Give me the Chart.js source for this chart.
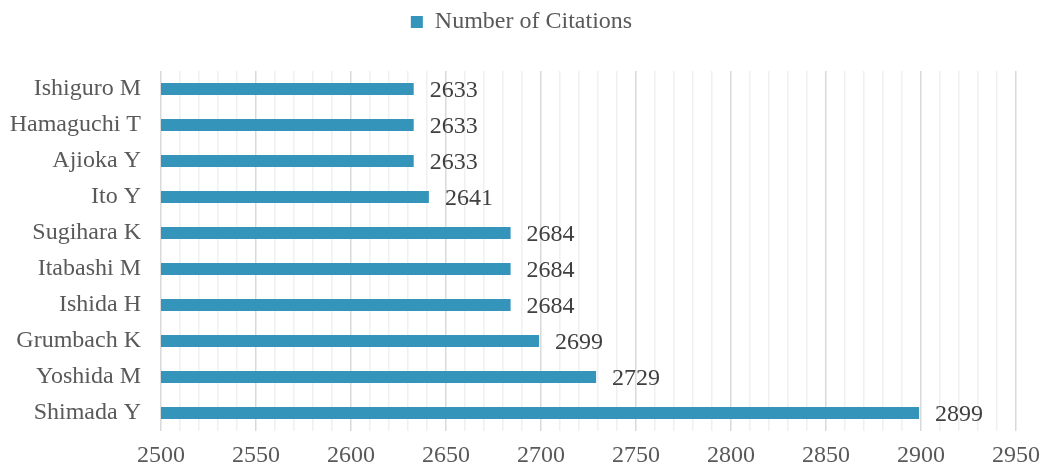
<!DOCTYPE html>
<html>
<head>
<meta charset="utf-8">
<script src="https://cdn.jsdelivr.net/npm/chart.js@4/dist/chart.umd.min.js"></script>
<style>
  html, body { margin: 0; padding: 0; background: #fff; }
  #wrap { width: 1043px; height: 469px; }
</style>
</head>
<body>
<div id="wrap"><canvas id="citeChart"></canvas></div>
<script>
const authors = ['Ishiguro M', 'Hamaguchi T', 'Ajioka Y', 'Ito Y', 'Sugihara K',
  'Itabashi M', 'Ishida H', 'Grumbach K', 'Yoshida M', 'Shimada Y'];
const citations = [2633, 2633, 2633, 2641, 2684, 2684, 2684, 2699, 2729, 2899];
const xMin = 2500;
const xMax = 2950;

const serif = '"Liberation Serif", "Times New Roman", serif';

// value text to the right of each bar
const barLabels = {
    id: 'barLabels',
    afterDatasetsDraw(chart) {
        const ctx = chart.ctx;
        const meta = chart.getDatasetMeta(0);
        ctx.save();
        ctx.font = '24px ' + serif;
        ctx.fillStyle = '#404040';
        ctx.textAlign = 'left';
        ctx.textBaseline = 'middle';
        meta.data.forEach((bar, i) => {
            ctx.fillText(String(chart.data.datasets[0].data[i]), bar.x + 16, bar.y + 2);
        });
        ctx.restore();
    }
};

// extra space under the legend
const legendGap = {
    id: 'legendGap',
    beforeInit(chart) {
        const fit = chart.legend.fit;
        chart.legend.fit = function () {
            fit.bind(chart.legend)();
            this.height += 27;
        };
    }
};

const ctx = document.getElementById('citeChart').getContext('2d');
new Chart(ctx, {
    type: 'bar',
    data: {
        labels: authors,
        datasets: [{
            label: 'Number of Citations',
            data: citations,
            backgroundColor: '#3494ba',
            borderWidth: 0,
            barPercentage: 0.34,
            categoryPercentage: 1.0
        }]
    },
    options: {
        indexAxis: 'y',
        responsive: true,
        maintainAspectRatio: false,
        animation: false,
        layout: { padding: { top: 2, right: 0, bottom: 0, left: 0 } },
        plugins: {
            legend: {
                position: 'top',
                labels: {
                    boxWidth: 12,
                    boxHeight: 12,
                    padding: 8,
                    color: '#595959',
                    font: { family: serif, size: 24 }
                }
            },
            tooltip: { enabled: false }
        },
        scales: {
            x: {
                min: xMin,
                max: xMax,
                afterFit: (s) => { s.height = 38; s.paddingRight = 27; },
                ticks: {
                    stepSize: 10,
                    autoSkip: false,
                    maxRotation: 0,
                    padding: 10,
                    color: '#595959',
                    font: { family: serif, size: 24 },
                    callback: (v) => (v % 50 === 0 ? String(v) : '')
                },
                grid: {
                    drawTicks: false,
                    color: (c) => (c.tick && c.tick.value % 50 === 0 ? '#d9d9d9' : '#f0f0f0'),
                    lineWidth: 1.5
                },
                border: { display: false }
            },
            y: {
                afterFit: (s) => { s.width = 161; },
                ticks: {
                    padding: 20,
                    color: '#595959',
                    font: { family: serif, size: 24 }
                },
                grid: { display: false, drawTicks: false },
                border: { display: false }
            }
        }
    },
    plugins: [barLabels, legendGap]
});
</script>
</body>
</html>
